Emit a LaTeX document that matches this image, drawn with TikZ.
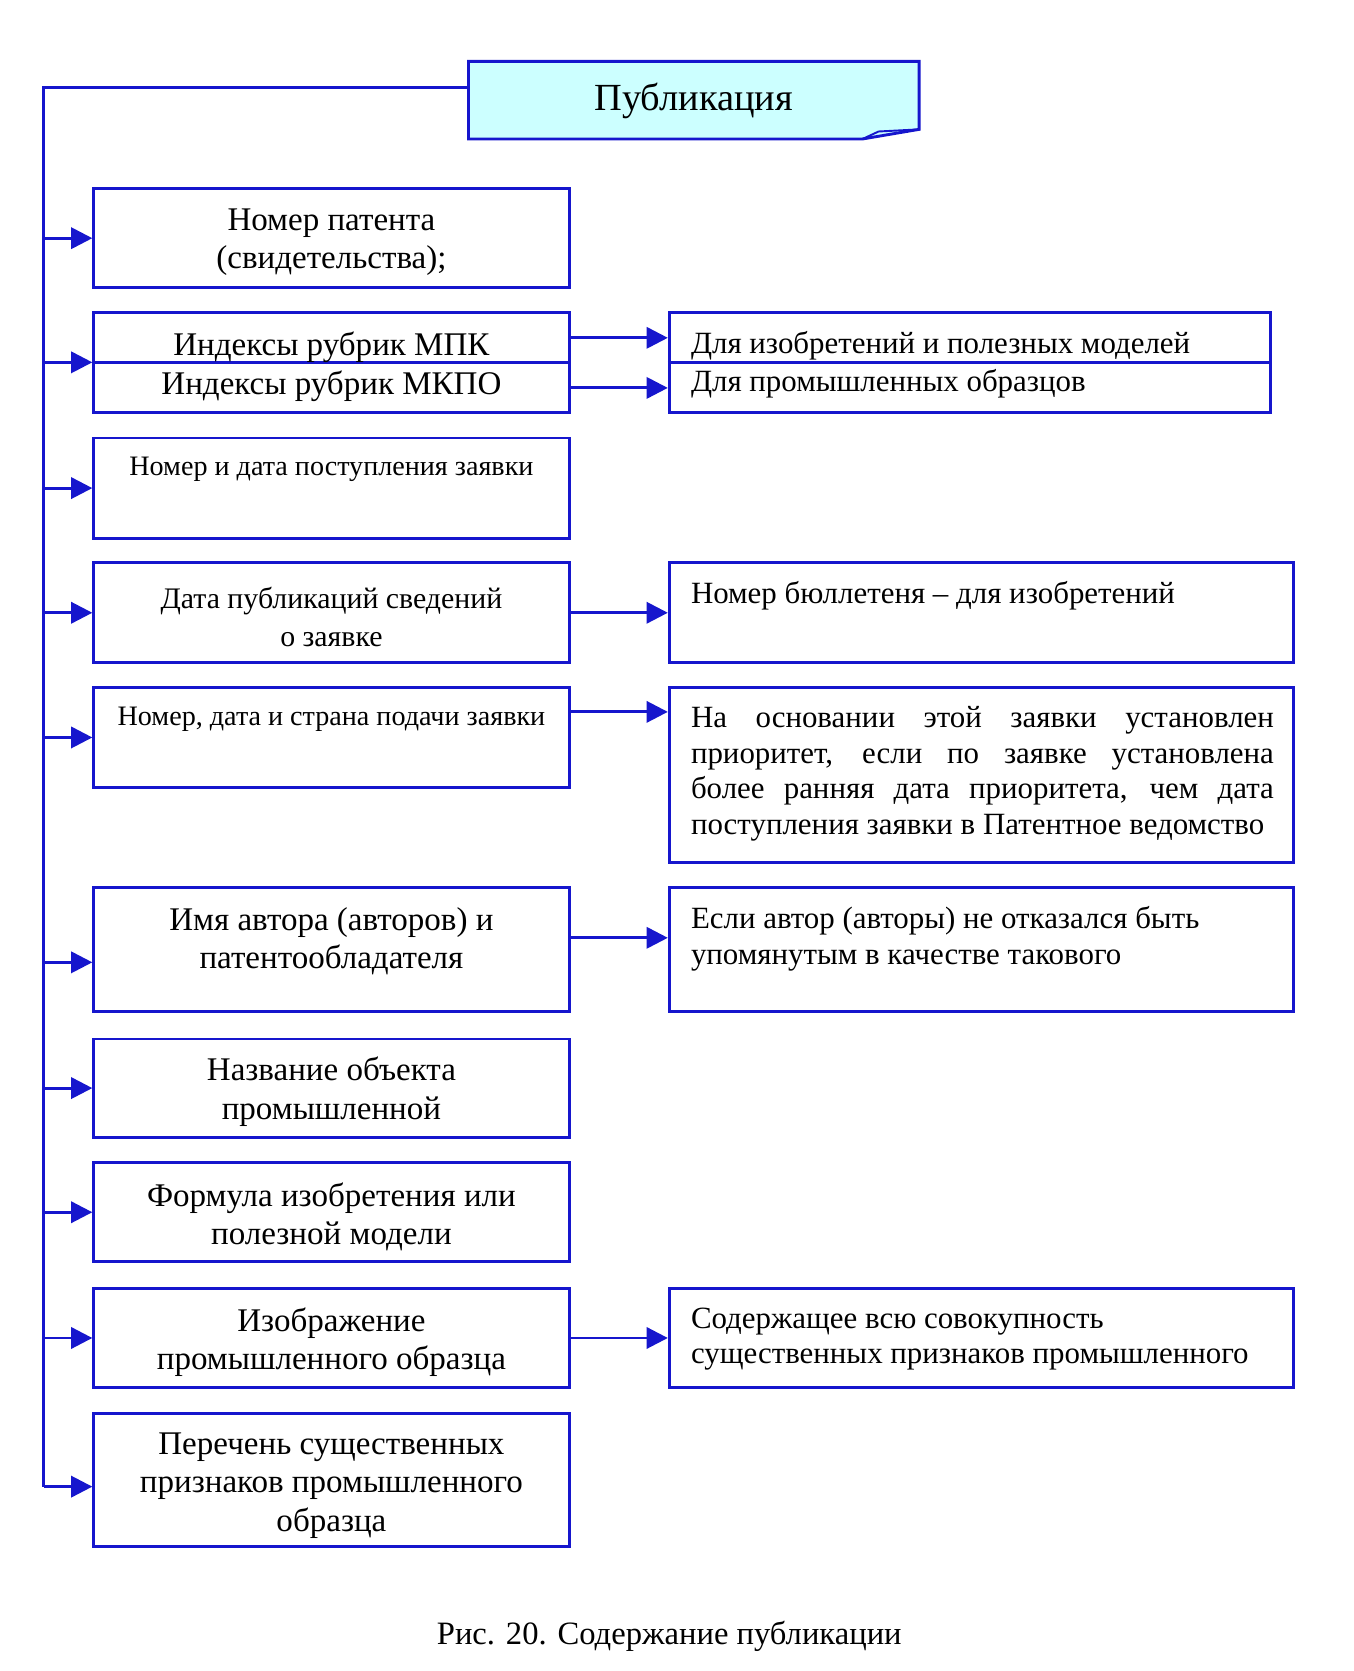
\documentclass[tikz,border=0pt]{standalone}
\usepackage{fontspec}
\setmainfont{Liberation Serif}
\usepackage{xcolor}
\usepackage{tikz}
\usetikzlibrary{arrows.meta, calc}

\definecolor{lineblue}{RGB}{22,22,205}
\definecolor{titlecyan}{RGB}{204,255,255}

\tikzset{
	blk/.style = {draw = lineblue, line width = 1.35pt, minimum width = 223pt, inner sep = 0pt},
	rblk/.style = {draw = lineblue, line width = 1.35pt, minimum width = 293pt, inner sep = 0pt},
	ltxt/.style = {inner sep = 0pt, yshift = -1.5pt, align = center, font = \fontsize{15.5}{18}\selectfont},
	stxt/.style = {inner sep = 0pt, yshift = -1.5pt, align = center, font = \fontsize{13.2}{16}\selectfont},
	rtxt/.style = {inner sep = 0pt, yshift = -1.5pt, anchor = west, align = left, font = \fontsize{14.5}{16.7}\selectfont},
	link/.style = {draw = lineblue, line width = 1.35pt},
	arr/.style = {link, -{Triangle[length = 10pt, width = 10pt]}},
}

\begin{document}
\begin{tikzpicture}[x = 1pt, y = -1pt]
	\useasboundingbox (0,0) rectangle (635,784);

	\def\lx{155.5};
	\def\rx{460.5};
	\def\bus{20.5};

	% title
	\node [minimum width = 211pt, minimum height = 36pt, inner sep = 0pt] (title) at (325.5,47) {};
	\filldraw [link, fill = titlecyan, line join = miter]
		(title.north west) -- (title.north east) -- ([yshift = 4.5pt]title.south east)
		-- ([xshift = -26.5pt]title.south east) -- (title.south west) -- cycle;
	\draw [link, line width = 0.9pt] ([xshift = -26.5pt]title.south east) -- ([xshift = -19pt, yshift = 3.5pt]title.south east)
		-- ([yshift = 4.5pt]title.south east);
	\node [inner sep = 0pt, font = \fontsize{18}{20}\selectfont] (ttl) at (325.5,47.5) {Публикация};

	% left column
	\node [blk, minimum height = 46.5pt] (b1) at (\lx,111.75) {};
	\node [blk, minimum height = 47pt] (b2) at (\lx,170) {};
	\node [blk, minimum height = 47pt] (b3) at (\lx,229) {};
	\node [blk, minimum height = 47pt] (b4) at (\lx,287.5) {};
	\node [blk, minimum height = 47pt] (b5) at (\lx,346) {};
	\node [blk, minimum height = 58pt] (b6) at (\lx,445.5) {};
	\node [blk, minimum height = 46pt] (b7) at (\lx,510.5) {};
	\node [blk, minimum height = 46.5pt] (b8) at (\lx,568.75) {};
	\node [blk, minimum height = 46.5pt] (b9) at (\lx,627.75) {};
	\node [blk, minimum height = 62.5pt] (b10) at (\lx,694.25) {};
	\draw [link] (b2.west) -- (b2.east);

	\node [ltxt] (t1) at (\lx,112.25) {Номер патента\\(свидетельства);};
	\node [ltxt] (t2a) at (\lx,161.5) {Индексы рубрик МПК};
	\node [ltxt] (t2b) at (\lx,179.5) {Индексы рубрик МКПО};
	\node [stxt] (t3) at (\lx,218.5) {Номер и дата поступления заявки};
	\node [ltxt, font = \fontsize{14}{18}\selectfont] (t4) at (\lx,288) {Дата публикаций сведений\\о заявке};
	\node [stxt] (t5) at (\lx,336) {Номер, дата и страна подачи заявки};
	\node [ltxt] (t6) at (\lx,440) {Имя автора (авторов) и\\патентообладателя};
	\node [ltxt] (t7) at (\lx,510.75) {Название объекта\\промышленной};
	\node [ltxt] (t8) at (\lx,569.5) {Формула изобретения или\\полезной модели};
	\node [ltxt] (t9) at (\lx,628.25) {Изображение\\промышленного образца};
	\node [ltxt] (t10) at (\lx,695.5) {Перечень существенных\\признаков промышленного\\образца};

	% right column
	\node [rblk, minimum width = 282pt, minimum height = 47pt] (r1) at (455,170) {};
	\node [rblk, minimum height = 47pt] (r2) at (\rx,287.5) {};
	\node [rblk, minimum height = 82pt] (r3) at (\rx,363.5) {};
	\node [rblk, minimum height = 58pt] (r4) at (\rx,445.5) {};
	\node [rblk, minimum height = 46.5pt] (r5) at (\rx,627.75) {};
	\draw [link] (r1.west) -- (r1.east);

	\node [rtxt] (s1a) at (324,160.5) {Для изобретений и полезных моделей};
	\node [rtxt] (s1b) at (324,178.5) {Для промышленных образцов};
	\node [rtxt] (s2) at (324,278) {Номер бюллетеня – для изобретений};
	\node [rtxt, align = justify, text width = 273.5pt] (s3) at (324,361.5)
		{На основании этой заявки установлен приоритет, если по заявке установлена более ранняя дата приоритета, чем дата поступления заявки в~Патентное ведомство};
	\node [rtxt] (s4) at (324,439) {Если автор (авторы) не отказался быть\\упомянутым в качестве такового};
	\node [rtxt] (s5) at (324,626.75) {Содержащее всю совокупность\\существенных признаков промышленного};

	% bus
	\coordinate (top) at (\bus,41);
	\draw [link] ([yshift = 6pt]title.west) -- (top) -- (top |- 0,697.5);
	\foreach \b in {b1, b2, b3, b4, b5, b7, b8, b9}
		\draw [arr] (top |- \b.west) -- (\b.west);
	\draw [arr] (top |- 0,451.5) -- (top |- 0,451.5 -| b6.west);
	\draw [arr] (top |- 0,697.5) -- (top |- 0,697.5 -| b10.west);

	% side links
	\draw [arr] ([yshift = 11.5pt]b2.east) -- ([yshift = 11.5pt]b2.east -| r1.west);
	\draw [arr] ([yshift = -12pt]b2.east) -- ([yshift = -12pt]b2.east -| r1.west);
	\draw [arr] (b4.east) -- (r2.west);
	\draw [arr] ([yshift = 12pt]b5.east) -- ([yshift = 12pt]b5.east -| r3.west);
	\draw [arr] ([yshift = 5.5pt]b6.east) -- ([yshift = 5.5pt]b6.east -| r4.west);
	\draw [arr] (b9.east) -- (r5.west);

	% caption
	\node [inner sep = 0pt, font = \fontsize{15.3}{18}\selectfont] (cap) at (314,767.5) {Рис. 20. Содержание публикации};
\end{tikzpicture}
\end{document}
